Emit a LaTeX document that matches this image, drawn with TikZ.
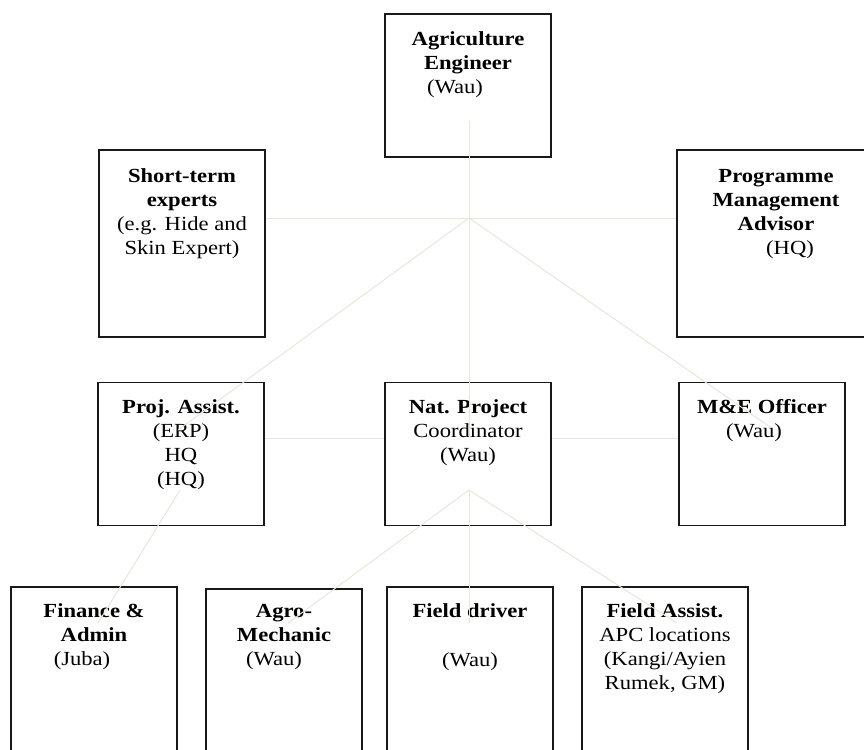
\documentclass[tikz,border=0pt]{standalone}
\usepackage{fontspec}
\setmainfont{Liberation Serif}[FakeStretch=1.13]
\definecolor{linkc}{RGB}{232,230,218}
\definecolor{boxc}{RGB}{25,25,25}
\begin{document}
\begin{tikzpicture}[x=1pt,y=-1pt,
  orgbox/.style={draw=boxc, line width=1.1pt, rectangle, inner sep=0pt},
  boxtext/.style={anchor=north, inner sep=0pt, align=center, font=\fontsize{20}{24}\selectfont},
  link/.style={draw=linkc, line width=1pt}]
\useasboundingbox (0,0) rectangle (864,749);
\clip (0,0) rectangle (864,749);
% boxes
\node[orgbox, minimum width=166pt, minimum height=143pt] (ag)  at (468,85.5) {};
\node[orgbox, minimum width=166pt, minimum height=187pt] (st)  at (182,243.5) {};
\node[orgbox, minimum width=190pt, minimum height=187pt] (pma) at (772,243.5) {};
\node[orgbox, minimum width=166pt, minimum height=143pt] (pa)  at (181,454) {};
\node[orgbox, minimum width=166pt, minimum height=143pt] (nat) at (468,454) {};
\node[orgbox, minimum width=166pt, minimum height=143pt] (me)  at (762,454) {};
\node[orgbox, minimum width=166pt, minimum height=213pt] (fin) at (94,693.5) {};
\node[orgbox, minimum width=156pt, minimum height=211pt] (agro) at (284,694.5) {};
\node[orgbox, minimum width=166pt, minimum height=213pt] (fd)  at (470,693.5) {};
\node[orgbox, minimum width=166pt, minimum height=213pt] (fa)  at (665,693.5) {};
% texts
\node[boxtext] (agt) at (468,25) {\rule{0pt}{20pt}\textbf{Agriculture}\\ \textbf{Engineer}\\ (Wau)\kern26pt};
\node[boxtext] (stt) at (182,162) {\rule{0pt}{20pt}\textbf{Short-term}\\ \textbf{experts}\\ (e.g. Hide and\\ Skin Expert)};
\node[boxtext] (pmat) at (776,162) {\rule{0pt}{20pt}\textbf{Programme}\\ \textbf{Management}\\ \textbf{Advisor}\\ \kern28pt(HQ)};
\node[boxtext] (pat) at (181,393) {\rule{0pt}{20pt}\textbf{Proj. Assist.}\\ (ERP)\\ HQ\\ (HQ)};
\node[boxtext] (natt) at (468,393) {\rule{0pt}{20pt}\textbf{Nat. Project}\\ Coordinator\\ (Wau)};
\node[boxtext] (met) at (762,393) {\rule{0pt}{20pt}\textbf{M\&E Officer}\\ (Wau)\kern16pt};
\node[boxtext] (fint) at (94,597) {\rule{0pt}{20pt}\textbf{Finance \&}\\ \textbf{Admin}\\ (Juba)\kern24pt};
\node[boxtext] (agrot) at (284,597) {\rule{0pt}{20pt}\textbf{Agro-}\\ \textbf{Mechanic}\\ (Wau)\kern20pt};
\node[boxtext] (fdt) at (470,597) {\rule{0pt}{20pt}\textbf{Field driver}\\[25pt] (Wau)};
\node[boxtext] (fat) at (665,597) {\rule{0pt}{20pt}\textbf{Field Assist.}\\ APC locations\\ (Kangi/Ayien\\ Rumek, GM)};
% connector points
\coordinate (hub) at (469,218);
\coordinate (agv) at (469,121);
\coordinate (natv) at (469,438);
\coordinate (mid) at (469,438);
\coordinate (paend) at (178,430);
\coordinate (meend) at (770,427);
\coordinate (pafoot) at (180,490);
\coordinate (finend) at (98,623);
\coordinate (apex) at (469,490);
\coordinate (agroend) at (288,623);
\coordinate (fdend) at (469,623);
\coordinate (faend) at (677,623);
% connectors
\draw[link] (agv) -- (natv);
\draw[link] (st.east |- hub) -- (pma.west |- hub);
\draw[link] (hub) -- (paend);
\draw[link] (hub) -- (meend);
\draw[link] (pa.east |- mid) -- (nat.west |- mid);
\draw[link] (nat.east |- mid) -- (me.west |- mid);
\draw[link] (pafoot) -- (finend);
\draw[link] (apex) -- (agroend);
\draw[link] (apex) -- (fdend);
\draw[link] (apex) -- (faend);
\end{tikzpicture}
\end{document}
